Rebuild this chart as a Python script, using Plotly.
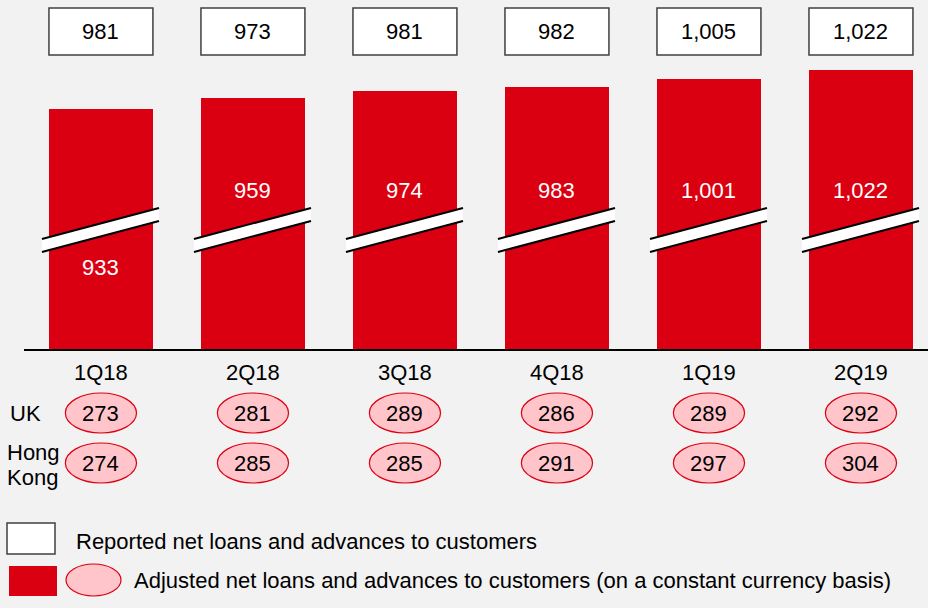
import plotly.graph_objects as go

quarters = ["1Q18", "2Q18", "3Q18", "4Q18", "1Q19", "2Q19"]
reported = [981, 973, 981, 982, 1005, 1022]
adjusted = [933, 959, 974, 983, 1001, 1022]
uk = [273, 281, 289, 286, 289, 292]
hong_kong = [274, 285, 285, 291, 297, 304]

W, H = 928, 608
RED = "#DB0011"
PINK = "#FFC5CB"
BG = "#F2F2F2"
FONT = "Liberation Sans, Arial, sans-serif"
FS = 22


def py(p):
    """pixel y (from top) -> paper y"""
    return 1 - p / H


def px(p):
    return p / W


def txt(text, x, y, xref="x", color="black", xanchor="center"):
    return dict(x=x, y=y, xref=xref, yref="paper", text=text, showarrow=False,
                xanchor=xanchor, yanchor="middle",
                font=dict(color=color, size=FS, family=FONT))


fig = go.Figure()
fig.add_trace(go.Bar(
    x=list(range(len(quarters))), y=adjusted, width=0.684,
    marker=dict(color=RED, line=dict(width=0)),
    hoverinfo="skip", showlegend=False,
))

shapes = []
annotations = []

# baseline
shapes.append(dict(type="line", xref="paper", yref="paper", x0=px(24), x1=1,
                   y0=py(350), y1=py(350), line=dict(color="black", width=2)))

for i, q in enumerate(quarters):
    # axis break band
    xl, xr = i - 0.388, i + 0.382
    ul, ur, ll, lr = py(239), py(208), py(252), py(221)
    shapes.append(dict(type="path", xref="x", yref="paper",
                       path=f"M {xl},{ul} L {xr},{ur} L {xr},{lr} L {xl},{ll} Z",
                       fillcolor="white", line=dict(width=0)))
    shapes.append(dict(type="line", xref="x", yref="paper", x0=xl, x1=xr, y0=ul, y1=ur,
                       line=dict(color="black", width=2)))
    shapes.append(dict(type="line", xref="x", yref="paper", x0=xl, x1=xr, y0=ll, y1=lr,
                       line=dict(color="black", width=2)))
    # adjusted label in bar
    ly = 267 if i == 0 else 190
    annotations.append(txt(f"{adjusted[i]:,}", i, py(ly), color="white"))
    # reported box
    shapes.append(dict(type="rect", xref="x", yref="paper", x0=i - 0.342, x1=i + 0.342,
                       y0=py(55), y1=py(8), fillcolor="white",
                       line=dict(color="#404040", width=1.5)))
    annotations.append(txt(f"{reported[i]:,}", i, py(32)))
    # category label
    annotations.append(txt(q, i, py(372)))
    # UK / HK ellipses
    for vals, cy in ((uk, 413), (hong_kong, 463)):
        shapes.append(dict(type="circle", xref="x", yref="paper", x0=i - 0.234, x1=i + 0.234,
                           y0=py(cy + 20), y1=py(cy - 20), fillcolor=PINK,
                           line=dict(color=RED, width=1.2)))
        annotations.append(txt(str(vals[i]), i, py(cy)))

# row labels
annotations.append(txt("UK", px(8), py(413), xref="paper", xanchor="left"))
annotations.append(txt("Hong", px(5), py(452), xref="paper", xanchor="left"))
annotations.append(txt("Kong", px(5), py(477), xref="paper", xanchor="left"))

# legend
shapes.append(dict(type="rect", xref="paper", yref="paper", x0=px(7), x1=px(55),
                   y0=py(554), y1=py(523), fillcolor="white", line=dict(color="#404040", width=1.5)))
shapes.append(dict(type="rect", xref="paper", yref="paper", x0=px(9), x1=px(57),
                   y0=py(596), y1=py(566), fillcolor=RED, line=dict(width=0)))
shapes.append(dict(type="circle", xref="paper", yref="paper", x0=px(66), x1=px(121),
                   y0=py(596), y1=py(564), fillcolor=PINK, line=dict(color=RED, width=1.2)))
annotations.append(txt("Reported net loans and advances to customers", px(74), py(541),
                       xref="paper", xanchor="left"))
annotations.append(txt("Adjusted net loans and advances to customers (on a constant currency basis)",
                       px(132), py(580), xref="paper", xanchor="left"))

fig.update_layout(
    width=W, height=H, margin=dict(l=0, r=0, t=0, b=0),
    paper_bgcolor=BG, plot_bgcolor=BG,
    xaxis=dict(range=[-0.664, 5.441], showticklabels=False, showgrid=False, zeroline=False,
               showline=False, ticks=""),
    yaxis=dict(range=[383, 1181.7], domain=[py(350), 1], showticklabels=False, showgrid=False,
               zeroline=False, showline=False, ticks=""),
    shapes=shapes, annotations=annotations, bargap=0, showlegend=False,
)

fig.write_html("out.html", config={"displayModeBar": False},
               post_script="document.body.style.margin='0';")
